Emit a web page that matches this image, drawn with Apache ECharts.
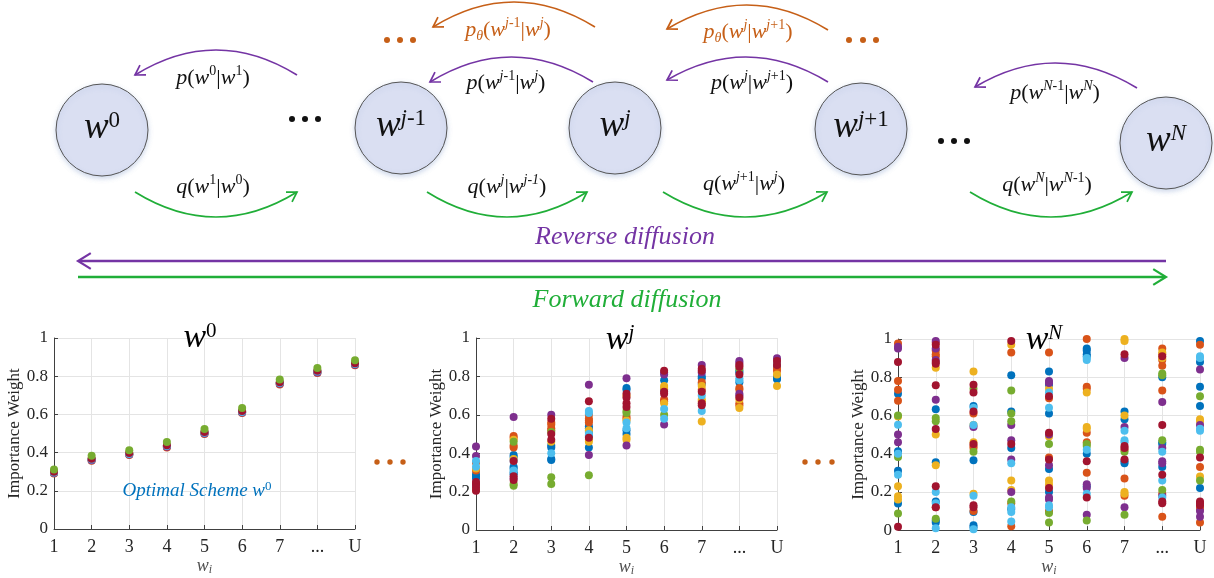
<!DOCTYPE html>
<html><head><meta charset="utf-8">
<script src="https://cdn.jsdelivr.net/npm/echarts@6/dist/echarts.min.js"></script>
<style>html,body{margin:0;padding:0;background:#fff}#c{width:1214px;height:578px}</style>
</head><body><div id="c"></div>
<script>
// ---------- data ----------
const categories = ['1','2','3','4','5','6','7','...','U'];
const runNames = ['Run 1','Run 2','Run 3','Run 4','Run 5','Run 6','Run 7'];
const palette = ['#0072BD','#D95319','#EDB120','#7E2F8E','#77AC30','#4DBEEE','#A2142F'];

// w^0 : one value per category for each run
const w0_run1 = [0.295,0.362,0.392,0.432,0.502,0.612,0.762,0.822,0.862];
const w0_run2 = [0.290,0.357,0.387,0.427,0.497,0.607,0.757,0.817,0.857];
const w0_run3 = [0.298,0.366,0.395,0.436,0.506,0.615,0.766,0.826,0.866];
const w0_run4 = [0.293,0.360,0.390,0.430,0.500,0.610,0.760,0.820,0.860];
const w0_run5 = [0.312,0.383,0.412,0.455,0.523,0.633,0.783,0.843,0.883];
const w0_run6 = [0.296,0.364,0.393,0.434,0.504,0.613,0.764,0.824,0.864];
const w0_run7 = [0.300,0.368,0.398,0.438,0.508,0.618,0.768,0.828,0.868];

// w^j : values per category for each run
const wj_run1 = [[.29,.28,.27],[.39,.38,.33,.32,.30,.29],[.44,.43,.37,.365],[.54,.53,.51,.49,.43],[.74,.73,.52,.50],[.78,.73],[.80,.79,.76],[.83,.82,.77],[.85,.80,.79,.785]];
const wj_run2 = [[.351,.31],[.49,.48,.44,.43],[.56,.55,.53,.52],[.60,.58,.57,.56],[.59,.58],[.68,.67],[.77,.73],[.74,.73,.66,.65],[.84,.83]];
const wj_run3 = [[.32,.21],[.47,.37],[.46],[.52,.47,.46],[.70,.57,.48,.47],[.75,.74,.66],[.75,.68,.67,.565],[.68,.635],[.81,.75]];
const wj_run4 = [[.435,.386,.23],[.588,.27],[.60],[.757,.39],[.791,.44],[.82,.81,.55],[.86,.82],[.88,.87,.71,.70],[.895]];
const wj_run5 = [[],[.46,.24,.23],[.51,.275,.24],[.285],[.62,.61],[.60],[],[.84],[]];
const wj_run6 = [[.36,.33],[.36,.31],[.40],[.62,.61,.50],[.56,.53],[.63,.58],[.70,.62],[.79,.78],[.87]];
const wj_run7 = [[.25,.24,.22,.205],[.36,.28,.26],[.58,.50,.47],[.67,.48],[.71,.69,.66,.64],[.83,.72,.71],[.84,.83,.72,.66,.65],[.86,.85,.81,.69],[.88,.86]];

// w^N : values per category for each run
const wN_run1 = [[.713,.412,.311,.139],[.633,.355,.15,.05,.04],[.65,.365,.095,.025,.015],[.81,.62,.43,.11],[.83,.76,.61,.32,.20],[.95,.94,.92,.91,.40,.23],[.62,.58,.36,.35],[.80,.46,.45,.33],[.99,.88,.75,.65,.22]];
const wN_run2 = [[.977,.78,.734,.677],[.98,.94,.92,.91,.12],[.61,.44,.43,.10],[.93,.14,.02],[.93,.69,.38,.10],[1.0,.75,.74,.51,.46,.30],[.42,.27,.18],[.95,.92,.89,.86,.73,.19,.07],[.97,.33,.12,.11,.04]];
const wN_run3 = [[.595,.23,.177,.16],[.85,.50,.34],[.83,.55,.46,.19],[.97,.26,.21],[.74,.49,.26,.24],[.72,.54,.53],[1.0,.99,.60,.20,.19],[.93,.90],[.58,.57,.28]];
const wN_run4 = [[.96,.95,.50,.46],[.99,.95,.89,.682],[.54],[.55,.47,.37,.20],[.78,.77,.50,.34,.17,.16],[.24,.22,.08],[.90,.54,.12],[.67,.43,.36,.35,.18],[.84,.55,.10,.07]];
const wN_run5 = [[.60,.383,.087],[.586,.569,.06],[.74,.41],[.73,.61,.57,.15],[.45,.09,.04],[.45,.44,.05],[.41,.08],[.82,.81,.47,.21],[.70,.42,.41,.26]];
const wN_run6 = [[.551,.40,.29],[.20,.14,.01],[.64,.55,.18,.005],[.35,.12,.095,.045],[.72,.64,.13,.12],[.90,.89,.42,.19],[.52,.47,.46],[.41,.26,.17],[.91,.90,.53,.52]];
const wN_run7 = [[.88,.017],[.97,.88,.87,.758,.529,.23,.12],[.76,.72,.62,.45,.13,.12],[.99,.45],[.70,.51,.37,.22],[.36,.17],[.92,.44,.43,.37],[.91,.55,.29,.15,.14],[.38,.15,.14,.13]];

const yMin = 0, yMax = 1, yStep = 0.2;

// ---------- build ----------
const SERIF = "'Liberation Serif','Times New Roman',serif";
const w0Runs = [w0_run1,w0_run2,w0_run3,w0_run4,w0_run6,w0_run7,w0_run5];
const w0Order = [0,1,2,3,5,6,4];
const wjRuns = [wj_run1,wj_run2,wj_run3,wj_run4,wj_run5,wj_run6,wj_run7];
const wNRuns = [wN_run1,wN_run2,wN_run3,wN_run4,wN_run5,wN_run6,wN_run7];

const grids = [
  {left:54, top:338, width:301, height:191},
  {left:476, top:338, width:301, height:192},
  {left:898, top:339, width:302, height:192}
];
const axisColor = '#404040';
const xAxes = grids.map((g,i)=>({
  gridIndex:i, type:'category', data:categories, boundaryGap:false,
  axisLine:{lineStyle:{color:axisColor,width:1}},
  axisTick:{inside:true,length:4,interval:0,lineStyle:{color:axisColor}},
  axisLabel:{interval:0,fontFamily:SERIF,fontSize:18,color:'#262626',margin:9},
  splitLine:{show:true,interval:0,lineStyle:{color:'#e4e4e4'}},
  name:'{i|w}{b|i}', nameLocation:'middle', nameGap:25,
  nameTextStyle:{rich:{
    i:{fontFamily:SERIF,fontStyle:'italic',fontSize:18,color:'#505050',lineHeight:20},
    b:{fontFamily:SERIF,fontStyle:'italic',fontSize:12,color:'#505050',lineHeight:12,verticalAlign:'bottom'}
  }}
}));
const yAxes = grids.map((g,i)=>({
  gridIndex:i, type:'value', min:yMin, max:yMax, interval:yStep,
  axisLine:{show:true,lineStyle:{color:axisColor,width:1}},
  axisTick:{show:true,inside:true,length:4,lineStyle:{color:axisColor}},
  axisLabel:{fontFamily:SERIF,fontSize:17,color:'#262626',margin:6},
  splitLine:{show:true,lineStyle:{color:'#e4e4e4'}},
  name:'Importance Weight', nameLocation:'middle', nameGap:30, nameRotate:90,
  nameTextStyle:{fontFamily:SERIF,fontSize:17,color:'#262626'}
}));

const series = [];
w0Runs.forEach((run,k)=>{
  const c = w0Order[k];
  series.push({type:'scatter',name:runNames[c],xAxisIndex:0,yAxisIndex:0,symbolSize:8,clip:false,
    itemStyle:{color:palette[c],opacity:1},data:run.map((v,ci)=>[ci,v])});
});
function flat(run){const out=[];run.forEach((vals,ci)=>vals.forEach(v=>out.push([ci,v])));return out;}
[wjRuns,wNRuns].forEach((runs,gi)=>{
  runs.forEach((run,c)=>{
    series.push({type:'scatter',name:runNames[c],xAxisIndex:gi+1,yAxisIndex:gi+1,symbolSize:8,clip:false,
      itemStyle:{color:palette[c],opacity:1},data:flat(run)});
  });
});

// ---------- diagram graphics ----------
const PURPLE='#7434a4', GREEN='#20ae38', ORANGE='#c65f17';
function mathRich(size,color){
  const sup=Math.round(size*0.64);
  return {
    i:{fontFamily:SERIF,fontStyle:'italic',fontSize:size,lineHeight:size+5,fill:color},
    n:{fontFamily:SERIF,fontSize:size,lineHeight:size+5,fill:color},
    s:{fontFamily:SERIF,fontSize:sup,lineHeight:sup+1,verticalAlign:'top',fill:color},
    si:{fontFamily:SERIF,fontStyle:'italic',fontSize:sup,lineHeight:sup+1,verticalAlign:'top',fill:color},
    b:{fontFamily:SERIF,fontStyle:'italic',fontSize:sup,lineHeight:sup,verticalAlign:'bottom',fill:color}
  };
}
function mtext(x,y,text,size,color){
  return {type:'text',x:x,y:y,z:10,silent:true,style:{text:text,rich:mathRich(size,color),fill:color,align:'center',verticalAlign:'middle'}};
}
function arrowHead(tx,ty,dx,dy,color,L,w){
  const len=Math.hypot(dx,dy), ux=dx/len, uy=dy/len, a=0.55;
  const c=Math.cos(a), s=Math.sin(a);
  const p1=[tx-L*(ux*c-uy*s), ty-L*(uy*c+ux*s)];
  const p2=[tx-L*(ux*c+uy*s), ty-L*(uy*c-ux*s)];
  return {type:'polyline',z:5,silent:true,shape:{points:[p1,[tx,ty],p2]},style:{stroke:color,lineWidth:w,fill:null}};
}
function arcArrow(x1,y1,x2,y2,peak,color){
  const cx=(x1+x2)/2, cy=2*peak-(y1+y2)/2;
  return [
    {type:'bezierCurve',z:5,silent:true,shape:{x1:x1,y1:y1,x2:x2,y2:y2,cpx1:cx,cpy1:cy},style:{stroke:color,lineWidth:1.7,fill:null}},
    arrowHead(x2,y2,x2-cx,y2-cy,color,11,1.7)
  ];
}
const g = [];
// nodes
const nodes = [
  {x:102,y:130,t:'{W|w}{S|0}'},
  {x:401,y:128,t:'{W|w}{SI|j}{S|-1}'},
  {x:615,y:128,t:'{W|w}{SI|j}'},
  {x:861,y:129,t:'{W|w}{SI|j}{S|+1}'},
  {x:1166,y:143,t:'{W|w}{SI|N}'}
];
const nodeRich = {
  W:{fontFamily:SERIF,fontStyle:'italic',fontSize:37,lineHeight:38,fill:'#111'},
  S:{fontFamily:SERIF,fontSize:23,lineHeight:22,verticalAlign:'top',fill:'#111'},
  SI:{fontFamily:SERIF,fontStyle:'italic',fontSize:23,lineHeight:22,verticalAlign:'top',fill:'#111'}
};
nodes.forEach(n=>{
  g.push({type:'circle',z:4,silent:true,shape:{cx:n.x,cy:n.y,r:46},
    style:{fill:'#dadff2',stroke:'#555',lineWidth:1,shadowBlur:5,shadowOffsetY:2,shadowColor:'rgba(120,150,200,0.35)'}});
  g.push({type:'text',x:n.x,y:n.y-2,z:10,silent:true,style:{text:n.t,rich:nodeRich,align:'center',verticalAlign:'middle'}});
});
// arcs
g.push(...arcArrow(297,75,135,75,50,PURPLE));
g.push(...arcArrow(135,192,297,192,217,GREEN));
g.push(...arcArrow(593,82,430,82,57,PURPLE));
g.push(...arcArrow(595,27,433,27,2,ORANGE));
g.push(...arcArrow(427,192,587,192,217,GREEN));
g.push(...arcArrow(828,82,667,80,57,PURPLE));
g.push(...arcArrow(828,30,667,29,5,ORANGE));
g.push(...arcArrow(663,192,827,192,217,GREEN));
g.push(...arcArrow(1137,88,975,87,63,PURPLE));
g.push(...arcArrow(970,192,1132,192,217,GREEN));
// labels
const LS = 22;
g.push(mtext(213,78,'{i|p}{n|(}{i|w}{s|0}{n||}{i|w}{s|1}{n|)}',LS,'#111'));
g.push(mtext(213,187,'{i|q}{n|(}{i|w}{s|1}{n||}{i|w}{s|0}{n|)}',LS,'#111'));
g.push(mtext(506,83,'{i|p}{n|(}{i|w}{si|j}{s|-1}{n||}{i|w}{si|j}{n|)}',LS,'#111'));
g.push(mtext(508,30,'{i|p}{b|θ}{n|(}{i|w}{si|j}{s|-1}{n||}{i|w}{si|j}{n|)}',LS,ORANGE));
g.push(mtext(507,187,'{i|q}{n|(}{i|w}{si|j}{n||}{i|w}{si|j-1}{n|)}',LS,'#111'));
g.push(mtext(752,83,'{i|p}{n|(}{i|w}{si|j}{n||}{i|w}{si|j}{s|+1}{n|)}',LS,'#111'));
g.push(mtext(748,32,'{i|p}{b|θ}{n|(}{i|w}{si|j}{n||}{i|w}{si|j}{s|+1}{n|)}',LS,ORANGE));
g.push(mtext(744,184,'{i|q}{n|(}{i|w}{si|j}{s|+1}{n||}{i|w}{si|j}{n|)}',LS,'#111'));
g.push(mtext(1055,93,'{i|p}{n|(}{i|w}{si|N}{s|-1}{n||}{i|w}{si|N}{n|)}',LS,'#111'));
g.push(mtext(1047,185,'{i|q}{n|(}{i|w}{si|N}{n||}{i|w}{si|N}{s|-1}{n|)}',LS,'#111'));
// ellipsis dots
function dots(xs,y,color,r){xs.forEach(x=>g.push({type:'circle',z:6,silent:true,shape:{cx:x,cy:y,r:r},style:{fill:color}}));}
dots([292,305,318],119,'#111',3);
dots([941,954,967],141,'#111',3);
dots([387,400,413],40,ORANGE,3);
dots([849,863,876],40,ORANGE,3);
dots([377,390,403],462,ORANGE,2.7);
dots([805,818,832],462,ORANGE,2.7);
// long arrows
g.push({type:'line',z:5,silent:true,shape:{x1:79,y1:261,x2:1166,y2:261},style:{stroke:PURPLE,lineWidth:2.6}});
g.push(arrowHead(78,261,-1,0,PURPLE,15,2.2));
g.push({type:'line',z:5,silent:true,shape:{x1:78,y1:277,x2:1165,y2:277},style:{stroke:GREEN,lineWidth:2.6}});
g.push(arrowHead(1166,277,1,0,GREEN,15,2.2));
g.push({type:'text',x:625,y:237,z:10,silent:true,style:{text:'Reverse diffusion',fill:PURPLE,font:"italic 26px "+SERIF,align:'center',verticalAlign:'middle'}});
g.push({type:'text',x:627,y:300,z:10,silent:true,style:{text:'Forward diffusion',fill:GREEN,font:"italic 26px "+SERIF,align:'center',verticalAlign:'middle'}});
// chart titles
const titleRich = {
  W:{fontFamily:SERIF,fontStyle:'italic',fontSize:34,lineHeight:34,fill:'#000'},
  S:{fontFamily:SERIF,fontSize:21,lineHeight:20,verticalAlign:'top',fill:'#000'},
  SI:{fontFamily:SERIF,fontStyle:'italic',fontSize:21,lineHeight:20,verticalAlign:'top',fill:'#000'}
};
[[200,338,'{W|w}{S|0}'],[620,340,'{W|w}{SI|j}'],[1044,340,'{W|w}{SI|N}']].forEach(t=>{
  g.push({type:'text',x:t[0],y:t[1],z:10,silent:true,style:{text:t[2],rich:titleRich,align:'center',verticalAlign:'middle'}});
});
g.push({type:'text',x:197,y:491,z:10,silent:true,style:{text:'{t|Optimal Scheme w}{s|0}',align:'center',verticalAlign:'middle',rich:{
  t:{fontFamily:SERIF,fontStyle:'italic',fontSize:19,lineHeight:22,fill:'#0072BD'},
  s:{fontFamily:SERIF,fontSize:13,lineHeight:13,verticalAlign:'top',fill:'#0072BD'}
}}});

const chart = echarts.init(document.getElementById('c'),null,{renderer:'canvas'});
chart.setOption({
  backgroundColor:'#ffffff',
  animation:false,
  grid:grids,
  xAxis:xAxes,
  yAxis:yAxes,
  series:series,
  graphic:g
});
</script></body></html>
